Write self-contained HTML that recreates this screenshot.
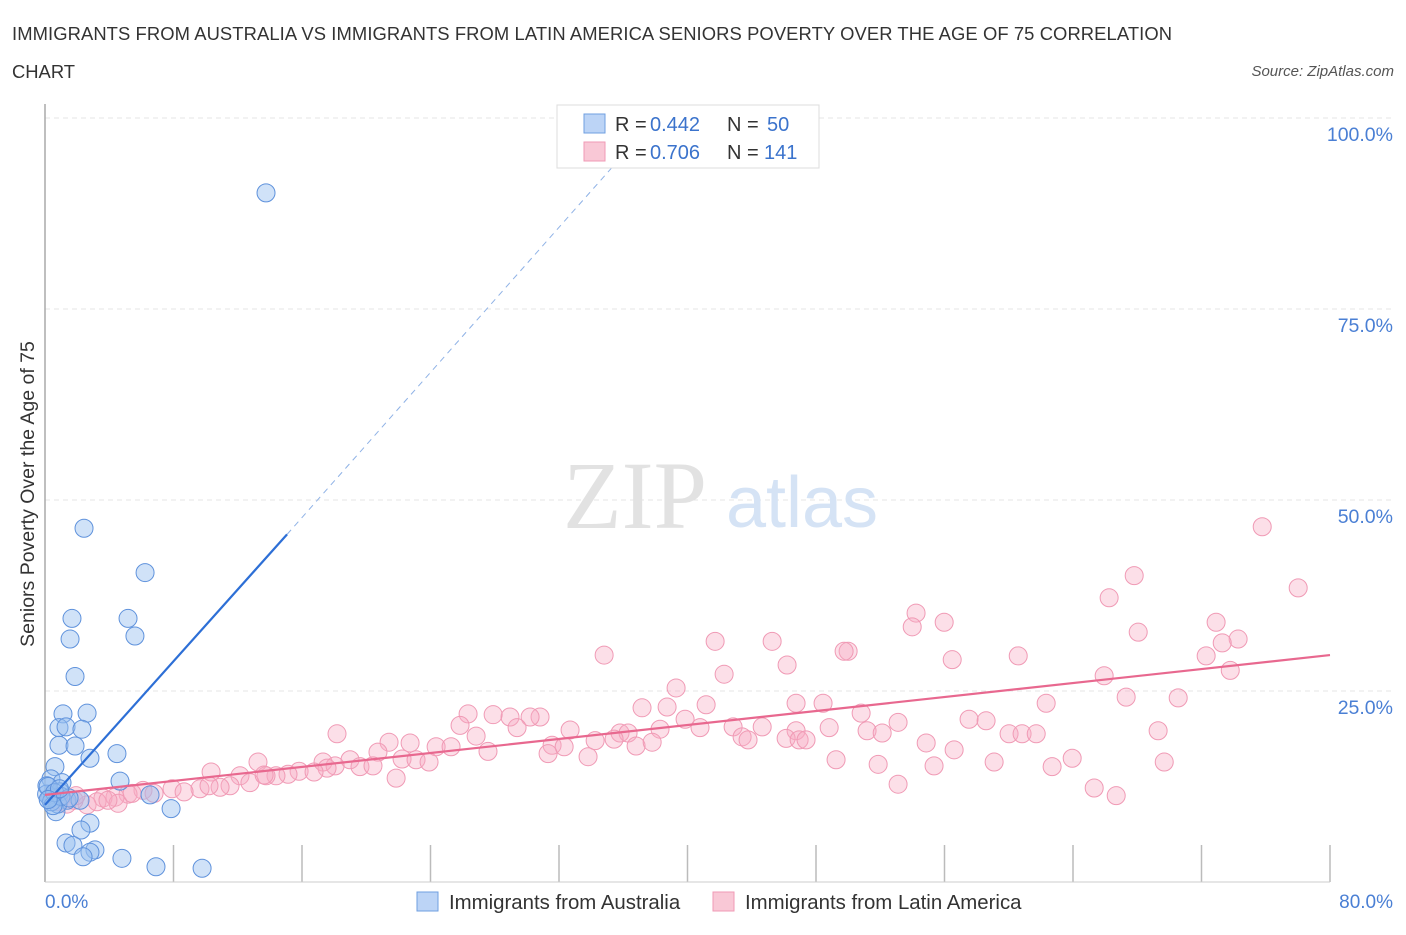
<!DOCTYPE html>
<html><head><meta charset="utf-8"><style>
body{margin:0;background:#fff;font-family:"Liberation Sans",sans-serif;}
</style></head><body>
<svg width="1406" height="930" xmlns="http://www.w3.org/2000/svg" font-family="Liberation Sans, sans-serif">
<text x="12" y="40" font-size="18.4" fill="#333" textLength="1160">IMMIGRANTS FROM AUSTRALIA VS IMMIGRANTS FROM LATIN AMERICA SENIORS POVERTY OVER THE AGE OF 75 CORRELATION</text>
<text x="12" y="78" font-size="18.4" fill="#333">CHART</text>
<text x="1394" y="76" font-size="15" fill="#555" font-style="italic" text-anchor="end">Source: ZipAtlas.com</text>
<g id="grid"></g>
<text x="635" y="528" font-size="96" fill="#e2e2e2" font-family="Liberation Serif, serif" text-anchor="middle">ZIP</text>
<text x="802" y="527" font-size="72" fill="#d5e3f5" text-anchor="middle">atlas</text>
<g id="ticks"></g>
<line x1="45" y1="104" x2="45" y2="882" stroke="#aaa" stroke-width="1.5"/>
<line x1="45" y1="882" x2="1330" y2="882" stroke="#ccc"/>
<g id="ylabels"></g>
<text x="45" y="908" font-size="19" fill="#4a7fd4">0.0%</text>
<text x="1393" y="908" font-size="19" fill="#4a7fd4" text-anchor="end">80.0%</text>
<text transform="translate(34,494) rotate(-90)" font-size="19.5" fill="#333" text-anchor="middle">Seniors Poverty Over the Age of 75</text>
<g id="pink"></g>
<g id="blue"></g>
<g id="trends"></g>
<g>
<rect x="557" y="105" width="262" height="63" fill="#fff" stroke="#ddd"/>
<rect x="584" y="114" width="21" height="19" fill="#bcd4f6" stroke="#6f9fe0"/>
<rect x="584" y="142" width="21" height="19" fill="#f9c8d6" stroke="#f09ab5"/>
<g font-size="20" fill="#333">
<text x="615" y="131">R =</text>
<text x="650" y="131" fill="#3b73cc">0.442</text>
<text x="727" y="131">N =</text>
<text x="767" y="131" fill="#3b73cc">50</text>
<text x="615" y="159">R =</text>
<text x="650" y="159" fill="#3b73cc">0.706</text>
<text x="727" y="159">N =</text>
<text x="764" y="159" fill="#3b73cc">141</text>
</g>
</g>
<g>
<rect x="417" y="892" width="21" height="19" fill="#bcd4f6" stroke="#6f9fe0"/>
<text x="449" y="909" font-size="20.4" fill="#333">Immigrants from Australia</text>
<rect x="713" y="892" width="21" height="19" fill="#f9c8d6" stroke="#f09ab5"/>
<text x="745" y="909" font-size="20.4" fill="#333">Immigrants from Latin America</text>
</g>
</svg>
<script>
const NS="http://www.w3.org/2000/svg";
const blueX=[13.76,2.43,6.23,1.68,5.17,1.56,5.6,1.87,1.12,2.62,0.87,1.31,2.3,0.87,1.87,4.48,2.8,0.62,0.37,1.06,4.67,0.12,0.93,0.44,6.54,1.37,2.18,0.68,7.85,2.8,2.24,1.31,1.74,3.11,2.8,2.37,4.79,6.91,9.78,0.3,0.1,0.8,0.4,1.0,0.2,0.6,0.5,1.5,0.9,0.2];
const blueY=[90.2,46.3,40.5,34.5,34.5,31.8,32.2,26.9,22.0,22.1,20.2,20.3,20.0,17.9,17.8,16.8,16.2,15.1,13.5,13.0,13.2,12.6,11.8,11.1,11.4,10.7,10.7,9.2,9.6,7.7,6.8,5.1,4.8,4.2,3.9,3.3,3.1,2.0,1.8,11.0,11.5,10.2,10.5,11.2,12.5,11.7,10.0,11.0,12.2,10.8];
const pinkX=[75.78,78.02,67.81,66.25,54.23,53.99,55.98,72.91,68.06,74.28,73.29,41.72,45.27,34.81,50.0,49.75,56.48,60.59,72.29,73.79,46.2,42.28,65.94,39.29,62.33,67.31,70.55,37.17,41.16,46.76,48.44,26.34,28.95,30.82,30.2,27.9,38.73,50.81,53.11,57.53,58.59,39.85,40.78,25.84,18.18,29.39,32.69,38.29,42.84,44.65,46.76,48.82,51.18,52.12,69.3,60.02,60.83,61.71,26.84,21.42,22.73,31.57,32.32,34.25,35.8,36.3,35.43,36.8,37.8,43.4,43.77,46.14,46.95,47.38,54.86,56.6,24.35,25.28,27.58,20.73,18.99,13.26,17.31,22.23,23.1,23.91,31.32,33.81,18.06,19.61,20.42,17.56,10.34,15.82,16.75,15.13,14.38,13.76,12.14,12.76,11.52,10.9,9.65,10.21,7.91,8.66,6.1,6.79,5.17,4.36,3.61,2.62,4.55,3.24,1.81,49.25,51.87,55.35,59.09,62.7,63.95,69.68,53.11,65.32,66.69,21.86,13.64,5.42,1.93,1.37,0.87,3.92];
const pinkY=[46.5,38.5,40.1,37.2,35.2,33.4,34.0,34.0,32.7,31.8,31.3,31.5,31.5,29.7,30.2,30.2,29.1,29.6,29.6,27.7,28.4,27.2,27.0,25.4,23.4,24.2,24.1,22.8,23.2,23.4,23.4,22.0,21.6,21.6,21.6,21.9,22.9,22.1,20.9,21.3,21.1,21.3,20.2,20.5,19.4,20.2,19.9,20.0,20.3,20.3,19.8,20.2,19.8,19.5,19.8,19.4,19.4,19.4,19.1,18.3,18.2,17.9,17.7,18.5,19.5,19.5,18.7,17.8,18.3,19.0,18.6,18.8,18.6,18.6,18.2,17.3,17.7,17.7,17.1,17.0,16.0,15.7,15.7,16.1,16.0,15.7,16.8,16.4,15.2,15.1,15.2,14.9,14.4,14.5,14.4,14.1,13.9,13.9,13.9,13.0,12.6,12.4,12.2,12.6,12.2,11.8,12.0,11.6,11.5,11.1,11.0,10.1,10.3,10.5,10.7,16.0,15.4,15.2,15.7,15.1,16.2,15.7,12.8,12.3,11.3,13.6,14.0,11.6,11.3,10.2,10.5,10.7];
const yTicks=[25,50,75,100];
const yTickLabels=["25.0%","50.0%","75.0%","100.0%"];
const xTicks=[8,16,24,32,40,48,56,64,72,80];
const blueTrend=[[0,10.1],[15.07,45.5]];
const blueDash=[[15.07,45.5],[35.5,94]];
const pinkTrend=[[0,11.4],[80,29.7]];
const X=v=>45+v*(1285/80), Y=v=>882-v*7.64;
function mk(tag,attrs,parent){const e=document.createElementNS(NS,tag);for(const k in attrs)e.setAttribute(k,attrs[k]);document.getElementById(parent).appendChild(e);return e;}
yTicks.forEach((t,i)=>{
 const g=mk('line',{x1:45,x2:1395,y1:Y(t),y2:Y(t),stroke:'#e4e4e4','stroke-dasharray':'5,4'},'grid');
 
 
 const l=mk('text',{x:1393,y:Y(t)+23,'font-size':19.5,fill:'#4a7fd4','text-anchor':'end'},'ylabels');
 l.textContent=yTickLabels[i];
 
 
});
xTicks.forEach(t=>{
 const e=mk('line',{x1:X(t),x2:X(t),y1:845,y2:882,stroke:'#bbb','stroke-width':1.5},'ticks');
 
 
});
pinkX.forEach((x,i)=>{
 const c=mk('circle',{cx:X(x),cy:Y(pinkY[i]),r:9,fill:'rgba(247,170,195,0.38)',stroke:'#f09ab5','stroke-width':1},'pink');
 
 
});
blueX.forEach((x,i)=>{
 const c=mk('circle',{cx:X(x),cy:Y(blueY[i]),r:9,fill:'rgba(150,190,240,0.45)',stroke:'#5f92dc','stroke-width':1},'blue');
 
 
});
const bt=mk('line',{x1:X(blueTrend[0][0]),y1:Y(blueTrend[0][1]),x2:X(blueTrend[1][0]),y2:Y(blueTrend[1][1]),stroke:'#2d6fd6','stroke-width':2.2},'trends');


const bd=mk('line',{x1:X(blueDash[0][0]),y1:Y(blueDash[0][1]),x2:X(blueDash[1][0]),y2:Y(blueDash[1][1]),stroke:'#8fb2e6','stroke-width':1,'stroke-dasharray':'6,5'},'trends');


const pt=mk('line',{x1:X(pinkTrend[0][0]),y1:Y(pinkTrend[0][1]),x2:X(pinkTrend[1][0]),y2:Y(pinkTrend[1][1]),stroke:'#e8688f','stroke-width':2.2},'trends');


</script>
</body></html>
